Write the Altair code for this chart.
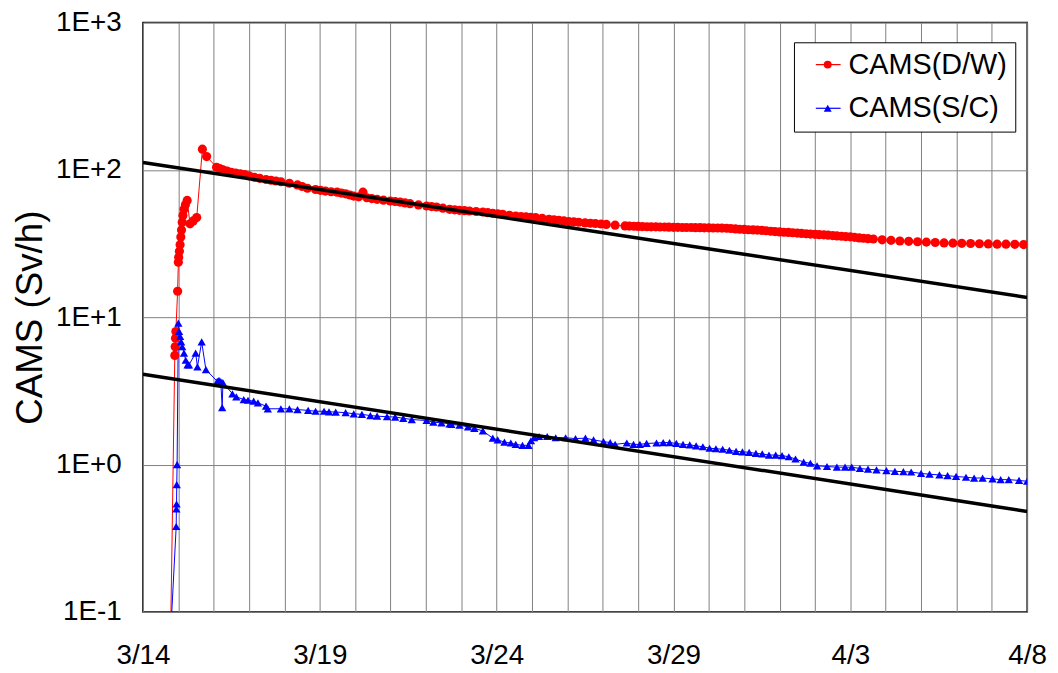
import altair as alt
import pandas as pd

# x = days elapsed since 3/14 00:00, y = dose rate (Sv/h)
dw_day = [0.73, 0.90, 0.91, 0.92, 0.93, 0.98, 1.00, 1.01, 1.03, 1.05, 1.07, 1.09, 1.11, 1.13, 1.16,
          1.20, 1.25, 1.33, 1.42, 1.52, 1.68, 1.80, 2.08, 2.17, 2.26, 2.38, 2.50, 2.62, 2.75, 2.87,
          3.00, 3.15, 3.30, 3.48, 3.62, 3.76, 3.90, 4.14, 4.37, 4.50, 4.65, 4.88, 5.02, 5.16, 5.32,
          5.49, 5.61, 5.73, 5.85, 5.96, 6.10, 6.22, 6.33, 6.47, 6.62, 6.80, 6.99, 7.13, 7.27, 7.41,
          7.55, 7.79, 8.02, 8.16, 8.30, 8.48, 8.67, 8.81, 8.95, 9.09, 9.23, 9.42, 9.61, 9.75, 9.89,
          10.03, 10.17, 10.36, 10.54, 10.69, 10.83, 10.96, 11.10, 11.29, 11.48, 11.62, 11.76, 11.90,
          12.04, 12.18, 12.32, 12.50, 12.65, 12.79, 12.95, 13.10, 13.35, 13.63, 13.75, 13.88, 14.00,
          14.12, 14.25, 14.37, 14.50, 14.62, 14.75, 14.87, 15.00, 15.12, 15.25, 15.37, 15.50, 15.62,
          15.75, 15.87, 16.00, 16.12, 16.25, 16.37, 16.50, 16.62, 16.75, 16.87, 17.00, 17.12, 17.25,
          17.37, 17.50, 17.62, 17.75, 17.87, 18.00, 18.12, 18.25, 18.37, 18.50, 18.62, 18.75, 18.87,
          19.00, 19.12, 19.25, 19.37, 19.50, 19.62, 19.75, 19.87, 20.00, 20.12, 20.25, 20.37, 20.50,
          20.65, 20.90, 21.15, 21.40, 21.65, 21.90, 22.15, 22.40, 22.65, 22.90, 23.15, 23.40, 23.65,
          23.90, 24.15, 24.40, 24.65, 24.90]
dw_val = [0.01, 5.5, 6.3, 7.2, 8.0, 15.0, 23.6, 25.5, 28, 31, 35, 39, 44, 49, 54,
          58, 62, 43, 45, 47.5, 138, 123, 104, 102, 100, 98, 96, 95, 94, 93,
          91, 89, 87.5, 86, 85, 84, 83, 81, 79, 77, 75, 73.5, 72.5, 71.7, 71,
          70.5, 69.5, 68.7, 67.5, 66.3, 65.5, 70.5, 64.6, 63.8, 63, 62.2, 61.4, 60.9, 60.4, 59.6,
          58.9, 57.8, 56.8, 56.3, 55.9, 54.9, 53.9, 53.5, 53.1, 52.8, 52.5, 52.1, 51.7, 51.2, 50.7,
          50.3, 49.9, 49.2, 48.6, 48.2, 47.9, 47.6, 47.4, 46.8, 46.2, 45.8, 45.5, 45.0,
          44.5, 44.3, 44.1, 43.6, 43.4, 43.2, 42.9, 42.6, 42.1, 41.6, 41.5, 41.4, 41.3,
          41.2, 41.1, 41.0, 41.0, 40.9, 40.9, 40.8, 40.7, 40.7, 40.6, 40.6, 40.6, 40.5,
          40.5, 40.4, 40.4, 40.3, 40.3, 40.2, 40.1, 40.0, 39.7, 39.5, 39.4, 39.2, 39.1,
          39.0, 38.8, 38.6, 38.3, 38.1, 37.9, 37.7, 37.6, 37.4, 37.2, 37.0, 36.8, 36.6,
          36.5, 36.3, 36.2, 36.0, 35.8, 35.6, 35.4, 35.2, 35.1, 34.8, 34.5, 34.3, 34.1,
          33.9, 33.5, 33.2, 32.9, 32.7, 32.5, 32.3, 32.1, 31.9, 31.8, 31.7, 31.6, 31.5,
          31.4, 31.3, 31.3, 31.2, 31.1]

sc_day = [0.75, 0.94, 0.945, 0.95, 0.955, 0.965, 1.00, 1.02, 1.05, 1.08, 1.11, 1.16, 1.21, 1.26,
          1.30, 1.49, 1.54, 1.66, 1.78, 2.10, 2.15, 2.20, 2.24, 2.26, 2.53, 2.64, 2.85, 2.97, 3.13,
          3.25, 3.48, 3.53, 3.90, 4.14, 4.37, 4.67, 4.88, 5.12, 5.26, 5.45, 5.73, 5.96, 6.19, 6.43,
          6.62, 6.90, 7.13, 7.36, 7.60, 8.02, 8.21, 8.44, 8.67, 8.72, 8.95, 9.19, 9.37, 9.61, 9.89,
          10.03, 10.22, 10.40, 10.54, 10.73, 10.90, 10.97, 11.06, 11.20, 11.43, 11.67, 11.95, 12.23,
          12.51, 12.74, 13.02, 13.21, 13.35, 13.68, 13.87, 14.05, 14.24, 14.52, 14.71, 14.89, 15.08,
          15.27, 15.46, 15.64, 15.83, 16.02, 16.20, 16.39, 16.58, 16.77, 16.95, 17.14, 17.33, 17.51,
          17.70, 17.89, 18.07, 18.26, 18.45, 18.68, 18.87, 19.06, 19.34, 19.62, 19.85, 20.04, 20.27,
          20.50, 20.74, 21.02, 21.26, 21.50, 21.72, 22.00, 22.24, 22.52, 22.75, 22.99, 23.27, 23.50,
          23.74, 24.02, 24.25, 24.48, 24.77, 25.00]
sc_val = [0.05, 0.38, 0.50, 0.54, 0.73, 1.0, 9.1, 8.0, 7.4, 6.8, 6.3, 5.7, 5.1, 4.75,
          4.75, 5.7, 4.6, 6.8, 4.4, 3.67, 3.72, 3.65, 2.43, 3.6, 3.02, 2.88, 2.76, 2.73, 2.69,
          2.62, 2.49, 2.39, 2.39, 2.39, 2.36, 2.33, 2.30, 2.30, 2.28, 2.27, 2.25, 2.21, 2.19, 2.15,
          2.13, 2.11, 2.10, 2.06, 2.02, 1.99, 1.94, 1.92, 1.89, 1.87, 1.85, 1.80, 1.76, 1.69, 1.51,
          1.47, 1.42, 1.40, 1.37, 1.35, 1.35, 1.45, 1.52, 1.55, 1.55, 1.52, 1.52, 1.50,
          1.51, 1.47, 1.43, 1.41, 1.37, 1.40, 1.37, 1.37, 1.39, 1.40, 1.41, 1.41, 1.39,
          1.37, 1.36, 1.34, 1.32, 1.29, 1.28, 1.27, 1.25, 1.23, 1.22, 1.21, 1.19, 1.18,
          1.16, 1.16, 1.15, 1.13, 1.09, 1.04, 1.02, 0.98, 0.97, 0.96, 0.96, 0.96, 0.94,
          0.93, 0.92, 0.91, 0.90, 0.895, 0.89, 0.87, 0.86, 0.85, 0.84, 0.83, 0.82, 0.81,
          0.81, 0.80, 0.79, 0.79, 0.78, 0.77]

trend_name = ["t1", "t1", "t2", "t2"]
trend_day = [0, 25, 0, 25]
trend_val = [112, 13.6, 4.1, 0.48]

series_names = ["CAMS(D/W)", "CAMS(S/C)"]
series_colors = ["#FF0000", "#0000FF"]
series_shapes = ["circle", "triangle-up"]
marker_sizes = [85, 70]

rows = []
for i, (d, v) in enumerate(zip(dw_day, dw_val)):
    rows.append({"series": series_names[0], "day": d, "value": v, "idx": i})
for i, (d, v) in enumerate(zip(sc_day, sc_val)):
    rows.append({"series": series_names[1], "day": d, "value": v, "idx": i})
df = pd.DataFrame(rows)
tdf = pd.DataFrame({"line": trend_name, "day": trend_day, "value": trend_val})

FONT = "Liberation Sans"
W, H = 891, 594

xscale = alt.Scale(domain=[0, 25], nice=False, zero=False)
yscale = alt.Scale(type="log", domain=[0.1, 1000], nice=False)

xaxis = alt.Axis(
    values=list(range(26)), tickCount=40,
    labelExpr="datum.value % 5 == 0 ? timeFormat(datetime(2011, 2, 14 + datum.value), '%-m/%-d') : ''",
    grid=True, gridColor="#808080", gridWidth=1, ticks=False, domain=False,
    labelFontSize=28, labelFont=FONT, labelColor="black", labelPadding=30,
    labelOverlap=False, labelFlush=False, title=None,
)
yaxis = alt.Axis(
    values=[0.1, 1, 10, 100, 1000], tickCount=10,
    labelExpr="datum.value >= 1 ? '1E+' + round(log(datum.value)/LN10) : '1E-' + round(-log(datum.value)/LN10)",
    grid=True, gridColor="#808080", gridWidth=1, ticks=False, domain=False,
    labelFontSize=28, labelFont=FONT, labelColor="black", labelPadding=22,
    labelOverlap=False, labelFlush=False,
    title="CAMS (Sv/h)", titleFont=FONT, titleFontSize=37, titleFontWeight="normal",
    titleColor="black", titleAngle=270, titleBaseline="middle", titleAlign="center",
    titleX=-113, titleY=H / 2,
)

LX, LY = 656, 20
leg_lines = alt.Legend(
    title=None, orient="none", legendX=LX, legendY=LY, direction="vertical",
    labelFontSize=29, labelFont=FONT, labelColor="black", labelOffset=6,
    symbolType="stroke", symbolSize=625, symbolStrokeWidth=1.2,
    padding=8, rowPadding=14, symbolOffset=12,
    fillColor="white", strokeColor="black", zindex=1,
)
leg_points = alt.Legend(
    title=None, orient="none", legendX=LX, legendY=LY, direction="vertical",
    labelFontSize=29, labelFont=FONT, labelOpacity=0, labelOffset=6,
    symbolSize=64, symbolStrokeWidth=0,
    padding=8, rowPadding=14, symbolOffset=11.5, zindex=2,
)

base = alt.Chart(df).encode(
    x=alt.X("day:Q", scale=xscale, axis=xaxis),
    y=alt.Y("value:Q", scale=yscale, axis=yaxis),
    order=alt.Order("idx:Q"),
)

# stroke scale keeps a data-derived domain (sorted), so its legend stays separate
lines = base.mark_line(strokeWidth=1, clip=True).encode(
    stroke=alt.Stroke("series:N", scale=alt.Scale(range=series_colors), legend=leg_lines),
    detail="series:N",
)

fill_enc = alt.Fill("series:N", scale=alt.Scale(domain=series_names, range=series_colors), legend=leg_points)
shape_enc = alt.Shape("series:N", scale=alt.Scale(domain=series_names, range=series_shapes), legend=leg_points)

point_layers = []
for name, sz in zip(series_names, marker_sizes):
    point_layers.append(
        base.transform_filter(alt.datum.series == name)
        .mark_point(filled=True, opacity=1, strokeWidth=0, clip=True, size=sz)
        .encode(fill=fill_enc, shape=shape_enc)
    )

trend = alt.Chart(tdf).mark_line(color="black", strokeWidth=3.5, clip=True).encode(
    x=alt.X("day:Q", scale=xscale),
    y=alt.Y("value:Q", scale=yscale),
    detail="line:N",
)

chart = alt.layer(lines, *point_layers, trend).properties(
    width=W, height=H,
    autosize=alt.AutoSizeParams(type="none"),
    padding={"left": 136, "top": 12, "right": 23, "bottom": 58},
    background="white",
).configure_view(stroke="black", strokeWidth=1.5)

chart.save("out.html", embed_options={"renderer": "svg", "actions": False})
